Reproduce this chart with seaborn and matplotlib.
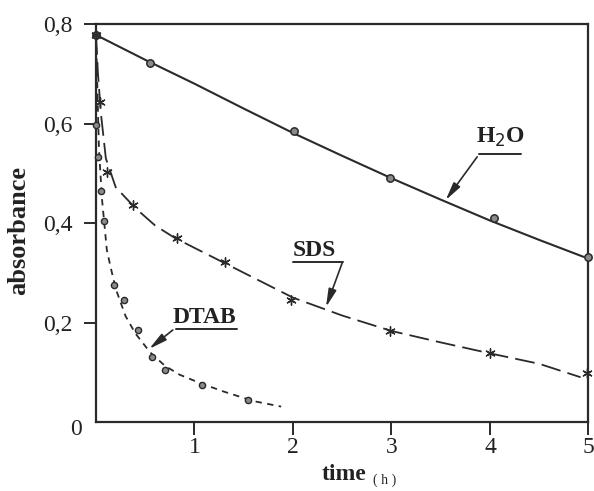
import matplotlib
matplotlib.use("Agg")
import matplotlib.pyplot as plt
import seaborn as sns
import pandas as pd

h2o_t = [0.0, 0.55, 2.01, 2.99, 4.04, 5.0]
h2o_a = [0.778, 0.722, 0.585, 0.49, 0.411, 0.331]
sds_t = [0.0, 0.04, 0.115, 0.38, 0.82, 1.31, 1.98, 2.98, 4.0, 4.99]
sds_a = [0.778, 0.644, 0.502, 0.436, 0.37, 0.321, 0.245, 0.183, 0.139, 0.098]
dtab_t = [0.0, 0.0, 0.017, 0.05, 0.08, 0.18, 0.28, 0.43, 0.57, 0.70, 1.08, 1.54]
dtab_a = [0.778, 0.597, 0.533, 0.465, 0.404, 0.275, 0.245, 0.184, 0.13, 0.104, 0.075, 0.044]

# fitted curves
h2o_fit_t = [0.0, 0.5, 1.0, 1.5, 2.0, 2.5, 3.0, 3.5, 4.0, 4.5, 4.95]
h2o_fit_a = [0.778, 0.728, 0.68, 0.63, 0.581, 0.535, 0.49, 0.447, 0.405, 0.366, 0.332]
sds_fit_t = [0.0, 0.02, 0.05, 0.1, 0.2, 0.4, 0.6, 0.8, 1.0, 1.3, 1.6, 2.0, 2.5, 3.0, 3.5, 4.0, 4.5, 4.92]
sds_fit_a = [0.778, 0.70, 0.62, 0.53, 0.472, 0.43, 0.395, 0.37, 0.35, 0.32, 0.29, 0.25, 0.214, 0.183, 0.16, 0.138, 0.117, 0.09]
dtab_fit_t = [0.0, 0.03, 0.06, 0.11, 0.15, 0.2, 0.3, 0.4, 0.55, 0.7, 0.85, 1.06, 1.3, 1.6, 1.88]
dtab_fit_a = [0.778, 0.55, 0.45, 0.346, 0.31, 0.268, 0.213, 0.178, 0.14, 0.113, 0.095, 0.078, 0.061, 0.042, 0.031]

ytick_vals = [0.2, 0.4, 0.6, 0.8]
ytick_labels = ["0,2", "0,4", "0,6", "0,8"]
xtick_vals = [1, 2, 3, 4, 5]

sns.set_theme(style="ticks")
plt.rcParams["font.family"] = ["Liberation Serif", "DejaVu Serif"]
ink = "#2a2a2a"

fig = plt.figure(figsize=(5.94, 4.91), dpi=100)
ax = fig.add_axes([0.1616, 0.1405, 0.8291, 0.8106])

# curves
sns.lineplot(x=h2o_fit_t, y=h2o_fit_a, ax=ax, color=ink, lw=1.5, sort=False)
sns.lineplot(x=sds_fit_t, y=sds_fit_a, ax=ax, color=ink, lw=1.3, sort=False)
ax.lines[-1].set_dashes([11, 4])
sns.lineplot(x=dtab_fit_t, y=dtab_fit_a, ax=ax, color=ink, lw=1.3, sort=False)
ax.lines[-1].set_dashes([3.5, 3])

# points
h2o = pd.DataFrame({"t": h2o_t, "a": h2o_a})
sds = pd.DataFrame({"t": sds_t, "a": sds_a})
dtab = pd.DataFrame({"t": dtab_t, "a": dtab_a})
sns.scatterplot(data=h2o, x="t", y="a", ax=ax, marker="o", s=28, color="#8a8a8a",
                edgecolor=ink, linewidth=1.1, clip_on=False, zorder=5)
sns.scatterplot(data=dtab, x="t", y="a", ax=ax, marker="o", s=20, color="#8a8a8a",
                edgecolor=ink, linewidth=1.0, clip_on=False, zorder=5)
sns.scatterplot(data=sds, x="t", y="a", ax=ax, marker=(6, 2, 0), s=45, color=ink,
                linewidth=1.0, clip_on=False, zorder=5)

ax.set_xlim(0, 5)
ax.set_ylim(0, 0.8)
ax.set_xticks(xtick_vals)
ax.set_xticklabels([str(v) for v in xtick_vals])
ax.set_yticks(ytick_vals)
ax.set_yticklabels(ytick_labels)
ax.tick_params(axis="both", direction="out", length=9, width=1.4, color=ink,
               labelsize=17, labelcolor="#222222")
ax.tick_params(axis="x", pad=2)
ax.tick_params(axis="y", pad=8)
for sp in ax.spines.values():
    sp.set_visible(True)
    sp.set_color(ink)
    sp.set_linewidth(1.6)
ax.text(-0.2, -0.016, "0", fontsize=17, ha="center", va="center", color="#222222")

ax.set_ylabel("")
ax.set_xlabel("")
ax.text(-0.158, 0.48, "absorbance", transform=ax.transAxes, rotation=90,
        fontsize=19, fontweight="bold", ha="center", va="center", color="#222222")
ax.text(2.52, -0.105, "time", fontsize=17, fontweight="bold", ha="center", va="center",
        color="#222222")
ax.text(2.93, -0.117, "( h )", fontsize=10, ha="center", va="center", color="#222222")

# labels with underline and arrow
labels = [
    ("H$_2$O", 4.11, 0.573, (3.89, 4.32), 0.539, (3.87, 0.533), (3.55, 0.446)),
    ("SDS", 2.22, 0.344, (2.00, 2.51), 0.322, (2.50, 0.320), (2.335, 0.231)),
    ("DTAB", 1.10, 0.211, (0.81, 1.43), 0.186, (0.78, 0.185), (0.54, 0.147)),
]
for txt, tx, ty, (u0, u1), uy, start, tip in labels:
    ax.text(tx, ty, txt, fontsize=17, fontweight="bold", ha="center", va="center",
            color="#222222")
    ax.plot([u0, u1], [uy, uy], color=ink, lw=1.4)
    ax.annotate("", xy=tip, xytext=start,
                arrowprops=dict(arrowstyle="-|>,head_length=0.9,head_width=0.2",
                                color=ink, lw=1.2, shrinkA=0, shrinkB=0))

plt.savefig("out.png", dpi=100)
